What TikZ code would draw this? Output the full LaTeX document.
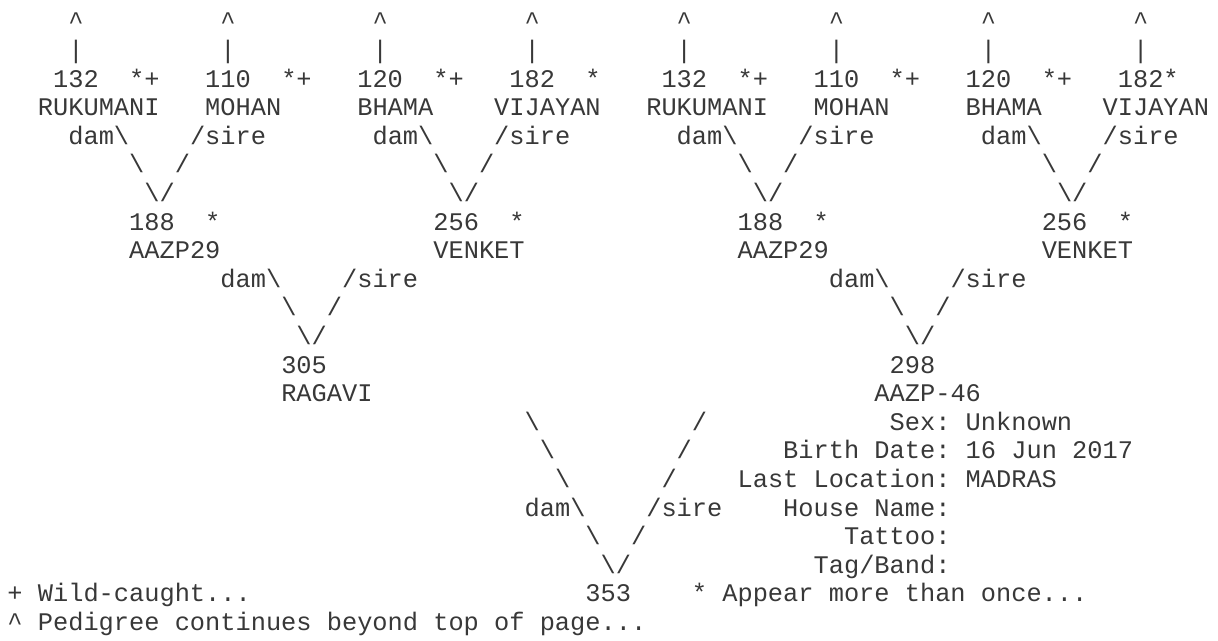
\documentclass[tikz,border=0pt]{standalone}
\usepackage{fontspec}
\setmonofont{Liberation Mono}
\newcommand{\bsl}{\textbackslash}
\newcommand{\crt}{\textasciicircum}

\begin{document}
\begin{tikzpicture}[
  x=11.4075pt, y=-21.45pt,
  txt/.style={anchor=base west, inner sep=0pt, outer sep=0pt, text=black!78,
    font=\fontsize{19.01pt}{21.45pt}\selectfont\ttfamily}
]
\useasboundingbox (0pt,0pt) rectangle (913.5pt,-480pt);
\begin{scope}[shift={(5.625pt,-22.35pt)}]
% ancestors beyond the page
\foreach \c in {4,14,...,74} {
  \node[txt] (up\c)  at (\c,0) {\crt};
  \node[txt] (bar\c) at (\c,1) {|};
}
% both halves of the tree
\foreach \h/\s in {0/a,40/b} {
  \node[txt] (num1\s) at (3+\h,2) {132};
  \node[txt] (mk1\s)  at (8+\h,2) {*+};
  \node[txt] (num2\s) at (13+\h,2) {110};
  \node[txt] (mk2\s)  at (18+\h,2) {*+};
  \node[txt] (num3\s) at (23+\h,2) {120};
  \node[txt] (mk3\s)  at (28+\h,2) {*+};
  \node[txt] (name1\s) at (2+\h,3) {RUKUMANI};
  \node[txt] (name2\s) at (13+\h,3) {MOHAN};
  \node[txt] (name3\s) at (23+\h,3) {BHAMA};
  \node[txt] (name4\s) at (32+\h,3) {VIJAYAN};
  \node[txt] (dam1\s)  at (4+\h,4)  {dam\bsl};
  \node[txt] (sire1\s) at (12+\h,4) {/sire};
  \node[txt] (dam2\s)  at (24+\h,4) {dam\bsl};
  \node[txt] (sire2\s) at (32+\h,4) {/sire};
  \foreach \k in {0,20} {
    \node[txt] (la\k\s) at (8+\k+\h,5)  {\bsl};
    \node[txt] (ra\k\s) at (11+\k+\h,5) {/};
    \node[txt] (lb\k\s) at (9+\k+\h,6)  {\bsl};
    \node[txt] (rb\k\s) at (10+\k+\h,6) {/};
  }
  \node[txt] (par1\s) at (8+\h,7)  {188};
  \node[txt] (mk4\s)  at (13+\h,7) {*};
  \node[txt] (par2\s) at (28+\h,7) {256};
  \node[txt] (mk5\s)  at (33+\h,7) {*};
  \node[txt] (pname1\s) at (8+\h,8)  {AAZP29};
  \node[txt] (pname2\s) at (28+\h,8) {VENKET};
  \node[txt] (dam3\s)  at (14+\h,9) {dam\bsl};
  \node[txt] (sire3\s) at (22+\h,9) {/sire};
  \node[txt] (lc\s) at (18+\h,10) {\bsl};
  \node[txt] (rc\s) at (21+\h,10) {/};
  \node[txt] (ld\s) at (19+\h,11) {\bsl};
  \node[txt] (rd\s) at (20+\h,11) {/};
}
\node[txt] (num4a) at (33,2) {182};
\node[txt] (mk4x)  at (38,2) {*};
\node[txt] (num4b) at (73,2) {182*};
% parents
\node[txt] (dam)     at (18,12) {305};
\node[txt] (damname) at (18,13) {RAGAVI};
\node[txt] (sire)     at (58,12) {298};
\node[txt] (sirename) at (57,13) {AAZP-46};
% big V down to the animal
\foreach \r in {0,1,2,4,5} {
  \node[txt] (lv\r) at (34+\r,14+\r) {\bsl};
  \node[txt] (rv\r) at (45-\r,14+\r) {/};
}
\node[txt] (damlab)  at (34,17) {dam\bsl};
\node[txt] (sirelab) at (42,17) {/sire};
\node[txt] (animal) at (38,20) {353};
% details of the animal
\node[txt] (sex)   at (58,14) {Sex: Unknown};
\node[txt] (birth) at (51,15) {Birth Date: 16 Jun 2017};
\node[txt] (loc)   at (48,16) {Last Location: MADRAS};
\node[txt] (house) at (51,17) {House Name:};
\node[txt] (tattoo) at (55,18) {Tattoo:};
\node[txt] (tag)   at (53,19) {Tag/Band:};
% legend
\node[txt] (wild)  at (0,20)  {+ Wild-caught...};
\node[txt] (twice) at (45,20) {* Appear more than once...};
\node[txt] (cont)  at (0,21)  {\crt{} Pedigree continues beyond top of page...};
\end{scope}
\end{tikzpicture}
\end{document}
